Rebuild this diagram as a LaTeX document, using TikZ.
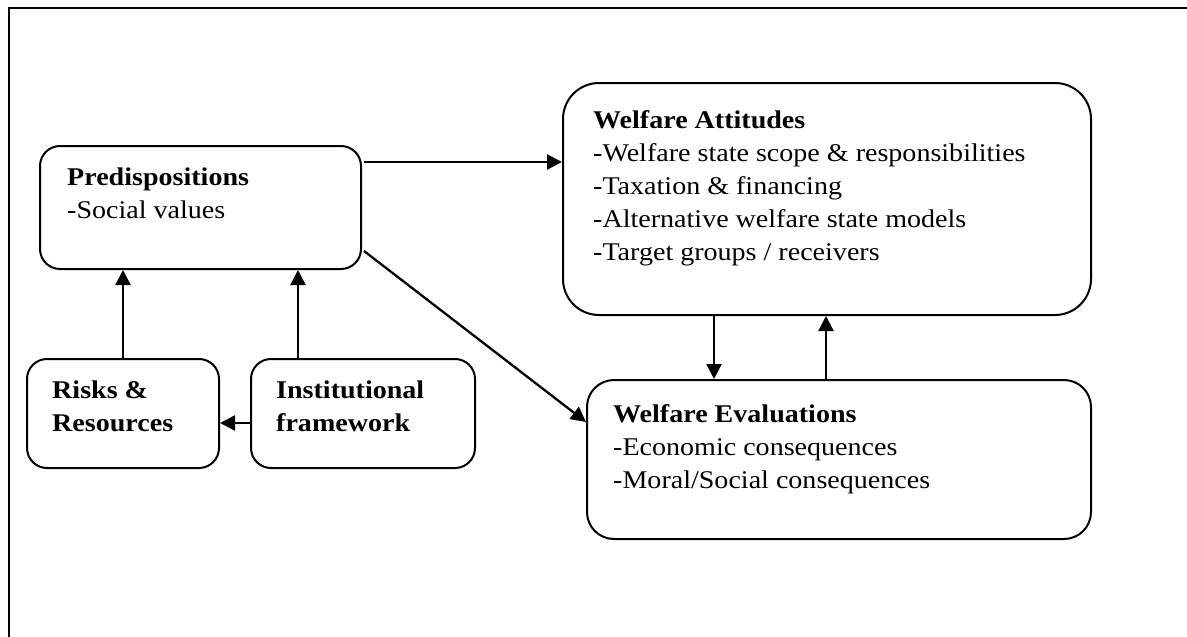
\documentclass[tikz,border=0pt]{standalone}
\usepackage{fontspec}
\setmainfont[FakeStretch=1.1]{Liberation Serif}
\usetikzlibrary{arrows.meta,calc}
\begin{document}
\begin{tikzpicture}[x=1pt,y=-1pt,
  box/.style={draw,line width=2pt,rectangle,anchor=north west,inner sep=0pt},
  txt/.style={anchor=base west,align=left,inner sep=0pt,font=\fontsize{25.5}{33}\selectfont},
  arr/.style={line width=2.3pt,-{Triangle[length=15pt,width=15pt]}}]
\useasboundingbox (0,0) rectangle (1187,637);
\draw[line width=2pt] (9,637) -- (9,8) -- (1187,8);
% boxes
\node[box,rounded corners=20pt,minimum width=321pt,minimum height=123pt] (pred) at (39,145) {};
\node[box,rounded corners=20pt,minimum width=192pt,minimum height=109pt] (risk) at (26,358) {};
\node[box,rounded corners=20pt,minimum width=224pt,minimum height=109pt] (inst) at (250,358) {};
\node[box,rounded corners=36pt,minimum width=528pt,minimum height=232pt] (att) at (562,82) {};
\node[box,rounded corners=27pt,minimum width=504pt,minimum height=159pt] (eval) at (586,379) {};
% texts (anchor = baseline of last line)
\node[txt] (tpred) at (67,218) {\textbf{Predispositions}\\-Social values};
\node[txt] (trisk) at (52,431) {\textbf{Risks \&}\\\textbf{Resources}};
\node[txt] (tinst) at (276,431) {\textbf{Institutional}\\\textbf{framework}};
\node[txt] (tatt) at (593,260) {\textbf{Welfare Attitudes}\\-Welfare state scope \& responsibilities\\-Taxation \& financing\\-Alternative welfare state models\\-Target groups / receivers};
\node[txt] (teval) at (613,488) {\textbf{Welfare Evaluations}\\-Economic consequences\\-Moral/Social consequences};
% connectors
\coordinate (p1) at ($(pred.north east)+(2,17)$);
\draw[arr] (p1) -- (p1 -| att.west);
\coordinate (p2) at ($(pred.south east)+(2,-19)$);
\coordinate (e2) at ($(eval.north west)+(0,43)$);
\draw[arr] (p2) -- (e2);
\draw[arr] (risk.north) -- (risk.north |- pred.south);
\coordinate (i1) at ($(inst.north west)+(48,0)$);
\draw[arr] (i1) -- (i1 |- pred.south);
\coordinate (i2) at ($(inst.north west)+(0,65)$);
\draw[arr] (i2) -- (i2 -| risk.east);
\coordinate (a1) at ($(att.south west)+(152,0)$);
\draw[arr] (a1) -- (a1 |- eval.north);
\coordinate (a2) at ($(att.south west)+(264,0)$);
\draw[arr] (a2 |- eval.north) -- (a2);
\end{tikzpicture}
\end{document}
